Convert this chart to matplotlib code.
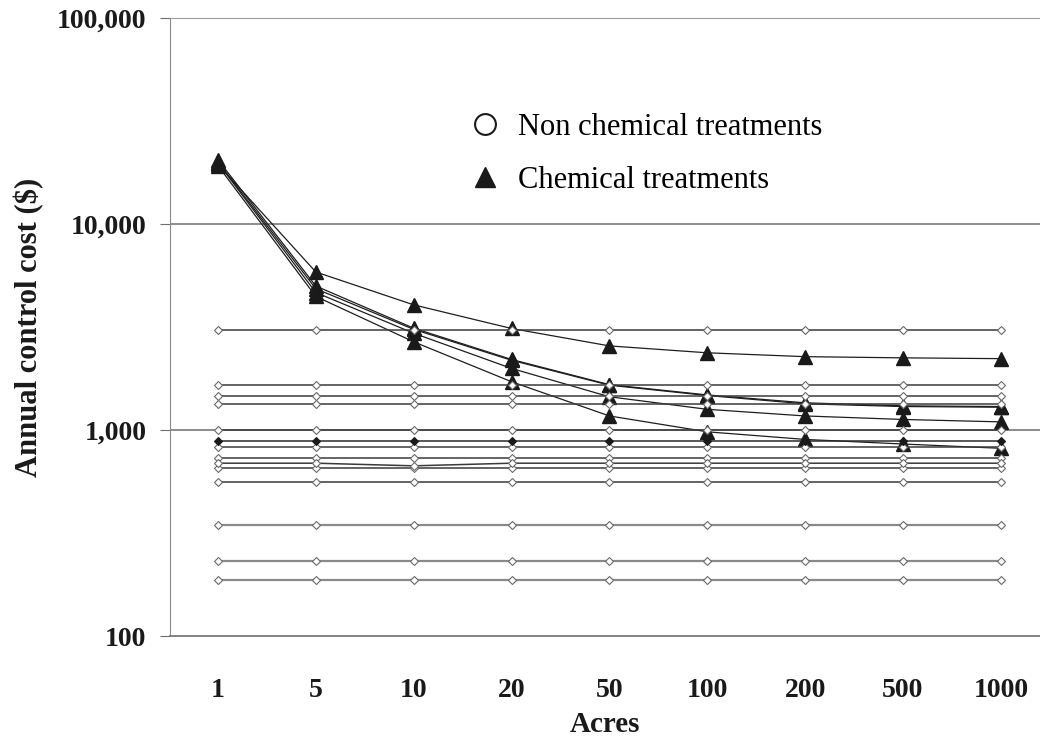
import numpy as np
import matplotlib
matplotlib.use('Agg')
import matplotlib.pyplot as plt
from matplotlib.lines import Line2D
from matplotlib.ticker import FixedLocator, FixedFormatter, NullLocator

plt.rcParams['font.family'] = ['Liberation Serif', 'DejaVu Serif']

## Data
acres = ['1', '5', '10', '20', '50', '100', '200', '500', '1000']

# chemical treatments (filled triangles)
chem_a = [19500, 5850, 4050, 3110, 2560, 2370, 2270, 2240, 2220]
chem_b = [20500, 5000, 3120, 2200, 1660, 1480, 1355, 1310, 1300]
chem_c = [20000, 4850, 3080, 2180, 1650, 1470, 1340, 1300, 1290]
chem_d = [19800, 4650, 2950, 1990, 1450, 1260, 1170, 1125, 1095]
chem_e = [19200, 4450, 2680, 1715, 1170, 980, 900, 855, 815]
chemical = [chem_a, chem_b, chem_c, chem_d, chem_e]

# non chemical treatments (flat lines, open diamonds)
nonchem_levels = [3050, 1650, 1460, 1340, 1000, 830, 730, 655, 560, 345, 230, 186]
nonchem_dip = [690, 690, 670, 690, 690, 690, 690, 690, 690]
nonchem_filled = [880] * 9

x = np.arange(len(acres))

fig = plt.figure(figsize=(10.4, 7.4), dpi=100)
ax = fig.add_axes([170/1040, 104/740, 870/1040, 618/740])
ax.set_yscale('log')
ax.set_ylim(100, 100000)
ax.set_xlim(-0.49, 8.4)

## gridlines at 1,000 and 10,000
for g in [1000, 10000]:
    ax.axhline(g, color='#6e6e6e', lw=1.1, zorder=1)

## chemical series first, non chemical drawn on top
for s in chemical:
    ax.plot(x, s, color='#1e1e1e', lw=0.9, marker='^', markersize=10,
            markerfacecolor='#1a1a1a', markeredgecolor='#1a1a1a', zorder=3)

for v in nonchem_levels:
    col = '#8a8a8a' if v < 400 else '#3a3a3a'
    lw = 1.6 if v < 400 else 1.1
    ax.plot(x, [v] * len(x), color=col, lw=lw, marker='D', markersize=4,
            markerfacecolor='white', markeredgecolor='#6a6a6a', markeredgewidth=0.8, zorder=4)
ax.plot(x, nonchem_dip, color='#3a3a3a', lw=1.1, marker='D', markersize=4,
        markerfacecolor='white', markeredgecolor='#6a6a6a', markeredgewidth=0.8, zorder=4)
ax.plot(x, nonchem_filled, color='#2a2a2a', lw=1.1, marker='D', markersize=4,
        markerfacecolor='#1a1a1a', markeredgecolor='#1a1a1a', markeredgewidth=0.8, zorder=4)

## axes styling
ax.spines['right'].set_visible(False)
ax.spines['top'].set_color('#a09a98')
ax.spines['left'].set_color('#8a8a8a')
ax.spines['bottom'].set_color('#7a7a7a')
ax.spines['bottom'].set_linewidth(1.3)

yt = [100, 1000, 10000, 100000]
ax.yaxis.set_major_locator(FixedLocator(yt))
ax.yaxis.set_major_formatter(FixedFormatter(['100', '1,000', '10,000', '100,000']))
ax.yaxis.set_minor_locator(NullLocator())
ax.tick_params(axis='y', direction='out', length=7, width=0.8, color='#6e6e6e', pad=10,
               labelsize=20)
ax.set_xticks(x)
ax.set_xticklabels(acres)
ax.tick_params(axis='x', length=0, pad=30, labelsize=20)
for lab in ax.get_xticklabels() + ax.get_yticklabels():
    lab.set_fontweight('bold')
    lab.set_color('#1a1a1a')

ax.set_ylabel('Annual control cost ($)', fontsize=22, fontweight='bold', color='#1a1a1a', labelpad=9)
ax.set_xlabel('Acres', fontsize=21, fontweight='bold', color='#1a1a1a', labelpad=6)

handles = [Line2D([], [], ls='none', marker='o', markersize=15, markerfacecolor='white',
                  markeredgecolor='#1a1a1a', markeredgewidth=1.5),
           Line2D([], [], ls='none', marker='^', markersize=15, markerfacecolor='#1a1a1a',
                  markeredgecolor='#1a1a1a')]
ax.legend(handles, ['Non chemical treatments', 'Chemical treatments'], loc='upper left',
          bbox_to_anchor=(442/1040, 1 - 85/740), bbox_transform=fig.transFigure,
          frameon=False, handlelength=1.0, handletextpad=0.6, labelspacing=0.8,
          prop={'family': 'Liberation Serif', 'size': 22})

plt.savefig('out.png', dpi=100)
